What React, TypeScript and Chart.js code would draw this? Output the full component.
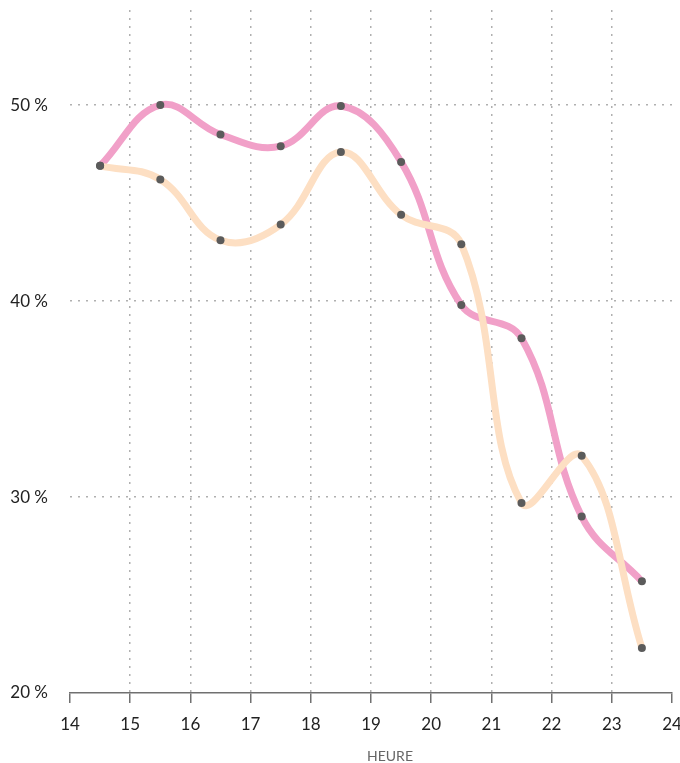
import React, { useEffect, useRef } from "react";
import { Chart, registerables } from "chart.js";

Chart.register(...registerables);

const hours = [14.5, 15.5, 16.5, 17.5, 18.5, 19.5, 20.5, 21.5, 22.5, 23.5];
const pinkValues = [46.9, 50.0, 48.5, 47.9, 49.95, 47.1, 39.8, 38.1, 29.0, 25.7];
const peachValues = [46.9, 46.2, 43.1, 43.9, 47.6, 44.4, 42.9, 29.7, 32.1, 22.3];
const xTicks = [14, 15, 16, 17, 18, 19, 20, 21, 22, 23, 24];
const yTicks = [20, 30, 40, 50];
const xTitle = "HEURE";

const PINK = "#f1a0c8";
const PEACH = "#fddfc3";
const DOT = "#5b5b5b";
const GRID = "#b0b0b0";
const AXIS = "#707070";
const FONT = "Lato, 'Open Sans', sans-serif";

const axisTitlePlugin = {
  id: "axisTitle",
  afterDraw(chart: any) {
    const { ctx, chartArea } = chart;
    ctx.save();
    ctx.font = `14px ${FONT}`;
    ctx.fillStyle = "#666";
    ctx.textAlign = "center";
    ctx.textBaseline = "middle";
    ctx.fillText(xTitle, (chartArea.left + chartArea.right) / 2 + 19, chart.height - 7);
    ctx.restore();
  },
};

export default function App() {
  const ref = useRef<HTMLCanvasElement | null>(null);
  useEffect(() => {
    document.body.style.margin = "0";
    const ctx = ref.current;
    if (!ctx) return;
    const toPts = (vals: number[]) => hours.map((h, i) => ({ x: h, y: vals[i] }));
    const chart = new Chart(ctx, {
      type: "line",
      data: {
        datasets: [
          {
            data: toPts(pinkValues),
            borderColor: PINK,
            borderWidth: 7,
            tension: 0.4,
            pointRadius: 0,
            order: 3,
          },
          {
            data: toPts(peachValues),
            borderColor: PEACH,
            borderWidth: 7,
            tension: 0.4,
            pointRadius: 0,
            order: 2,
          },
          {
            data: toPts(pinkValues),
            showLine: false,
            pointRadius: 4,
            pointBackgroundColor: DOT,
            pointBorderWidth: 0,
            order: 1,
          },
          {
            data: toPts(peachValues),
            showLine: false,
            pointRadius: 4,
            pointBackgroundColor: DOT,
            pointBorderWidth: 0,
            order: 1,
          },
        ],
      },
      options: {
        animation: false,
        responsive: false,
        layout: { padding: 0 },
        plugins: { legend: { display: false }, tooltip: { enabled: false } },
        scales: {
          x: {
            type: "linear",
            min: xTicks[0],
            max: xTicks[xTicks.length - 1],
            afterBuildTicks: (s: any) => {
              s.ticks = xTicks.map((v) => ({ value: v }));
            },
            afterFit: (s: any) => {
              s.height = 70;
              s.paddingLeft = 0;
              s.paddingRight = 8;
            },
            grid: {
              color: (c: any) =>
                c.tick && (c.tick.value === xTicks[0] || c.tick.value === xTicks[xTicks.length - 1])
                  ? "rgba(0,0,0,0)"
                  : GRID,
              lineWidth: 1.5,
              tickColor: AXIS,
              tickBorderDash: [],
              tickLength: 10,
              tickWidth: 1.5,
            },
            border: { display: true, color: AXIS, width: 1.5, dash: [2, 6] },
            ticks: {
              color: "#222",
              font: { family: FONT, size: 17 },
              padding: 11,
              maxRotation: 0,
              callback: (v: any) => String(v),
            },
            title: { display: false },
          },
          y: {
            type: "linear",
            min: 20,
            max: 54.85,
            afterBuildTicks: (s: any) => {
              s.ticks = yTicks.map((v) => ({ value: v }));
            },
            afterFit: (s: any) => {
              s.width = 70;
              s.paddingTop = 10;
              s.paddingBottom = 0;
            },
            grid: {
              color: (c: any) => (c.tick && c.tick.value === yTicks[0] ? "rgba(0,0,0,0)" : GRID),
              lineWidth: 1.5,
              drawTicks: false,
            },
            border: { display: false, dash: [2, 6] },
            ticks: {
              color: "#222",
              font: { family: FONT, size: 17 },
              padding: 22,
              callback: (v: any) => v + " %",
            },
          },
        },
      },
      plugins: [axisTitlePlugin],
    });
    return () => chart.destroy();
  }, []);
  return <canvas ref={ref} width={680} height={763} style={{ display: "block" }} />;
}
